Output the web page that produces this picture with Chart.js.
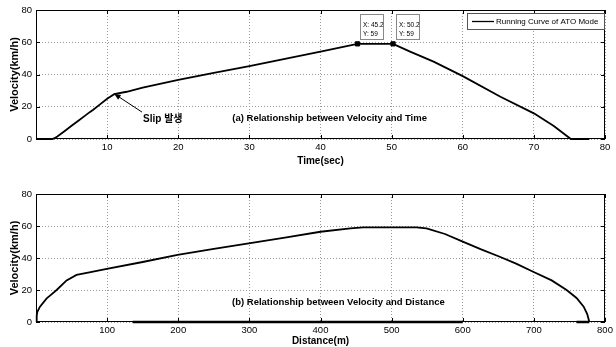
<!DOCTYPE html>
<html>
<head>
<meta charset="utf-8">
<script src="https://cdn.jsdelivr.net/npm/chart.js@4.4.0/dist/chart.umd.min.js"></script>
<style>
  body { margin: 0; background: #fff; }
  #wrap { position: relative; width: 616px; height: 347px; }
  canvas { position: absolute; left: 0; }
</style>
</head>
<body>
<div id="wrap">
  <canvas id="timeChart" width="616" height="173" style="top:0"></canvas>
  <canvas id="distChart" width="616" height="172" style="top:175px"></canvas>
</div>
<script>
// (a) 속도-시간
var timeSec = [0, 2.3, 2.6, 3, 4, 5, 6, 7, 7.5, 8, 9, 10, 11, 12.75, 15, 20, 25, 30, 35, 40, 45.2, 50.2, 52.6, 55.9, 60, 65.3, 70, 72.8, 75.2, 77.8];
var timeVel = [0, 0, 0.5, 1.5, 4.8, 8.2, 11.5, 14.8, 16.5, 18, 21.5, 25, 27.8, 29.3, 31.8, 36.6, 41, 45.2, 49.7, 54.2, 59, 59, 54.2, 48, 39, 26.2, 15.9, 8.1, 0, 0];

// (b) 속도-거리
var distM = [0, 1, 1.9, 5.6, 15, 19.7, 29, 43, 57, 75, 99.5, 150, 199, 250, 299, 350, 400, 442, 460, 535, 549, 575, 600, 625, 652, 675, 699, 725, 746, 760, 770, 775, 778];
var distVel = [0, 4, 6.4, 9.6, 14.8, 16.5, 20, 26, 29.4, 31, 33.2, 37.5, 41.9, 45.7, 49.2, 52.8, 56.4, 58.5, 59.2, 59.2, 58.5, 55, 50.2, 45.5, 40.8, 36.5, 31.4, 26, 20, 15, 9.6, 5, 0];

// 바닥의 굵은 선 (null = 끊김)
var groundDist = [136, 600, 680, 760, 778];
var groundVel = [0, 0, null, 0, 0];

// 데이터팁
var tipTime = [45.2, 50.2];
var tipVel = [59, 59];

// Slip 지점
var slipTime = 11;
var slipVel = 28;

var lineLabel = "Running Curve of ATO Mode";

Chart.defaults.font.family = "'Liberation Sans', Arial, 'Noto Sans CJK KR', sans-serif";
Chart.defaults.color = "#000";

function toPoints(xs, ys) {
  return xs.map(function (v, i) { return { x: v, y: ys[i] }; });
}

// MATLAB 스타일: 박스, 안쪽 눈금, 범례, 주석
var matlabLook = {
  id: "matlabLook",
  afterDatasetsDraw: function (chart, args, opts) {
    var ctx = chart.ctx;
    var a = chart.chartArea;
    var xs = chart.scales.x;
    var ys = chart.scales.y;
    ctx.save();
    ctx.setLineDash([]);
    ctx.strokeStyle = "#000";
    ctx.lineWidth = 1;

    // 안쪽 눈금
    ctx.beginPath();
    xs.ticks.forEach(function (t) {
      var px = Math.round(xs.getPixelForValue(t.value)) + 0.5;
      ctx.moveTo(px, a.bottom); ctx.lineTo(px, a.bottom - 4);
      ctx.moveTo(px, a.top); ctx.lineTo(px, a.top + 4);
    });
    ys.ticks.forEach(function (t) {
      var py = Math.round(ys.getPixelForValue(t.value)) + 0.5;
      ctx.moveTo(a.left, py); ctx.lineTo(a.left + 4, py);
      ctx.moveTo(a.right, py); ctx.lineTo(a.right - 4, py);
    });
    ctx.stroke();

    // 테두리
    ctx.strokeRect(a.left + 0.5, a.top + 0.5, a.right - a.left - 1, a.bottom - a.top - 1);

    // 범례
    if (opts.legend) {
      var lw = 137, lh = 16;
      var lx = a.right - lw - 1, ly = a.top + 3;
      ctx.fillStyle = "#fff";
      ctx.fillRect(lx, ly, lw, lh);
      ctx.strokeStyle = "#555";
      ctx.strokeRect(lx + 0.5, ly + 0.5, lw, lh);
      ctx.strokeStyle = "#000";
      ctx.lineWidth = 1.3;
      ctx.beginPath();
      ctx.moveTo(lx + 5, ly + lh / 2 + 0.5);
      ctx.lineTo(lx + 27, ly + lh / 2 + 0.5);
      ctx.stroke();
      ctx.fillStyle = "#000";
      ctx.font = "8px 'Liberation Sans', Arial, sans-serif";
      ctx.textAlign = "left";
      ctx.textBaseline = "middle";
      ctx.fillText(chart.data.datasets[0].label, lx + 29, ly + lh / 2 + 1);
    }

    // 데이터팁 상자
    (opts.tips || []).forEach(function (tp) {
      var mx = xs.getPixelForValue(tp.x);
      var my = ys.getPixelForValue(tp.y);
      var bx = Math.round(mx) + 3, by = Math.round(my) - 30;
      ctx.fillStyle = "#fff";
      ctx.fillRect(bx, by, 23, 25);
      ctx.strokeStyle = "#888";
      ctx.lineWidth = 1;
      ctx.strokeRect(bx + 0.5, by + 0.5, 23, 25);
      ctx.fillStyle = "#000";
      ctx.font = "6.5px 'Liberation Sans', Arial, sans-serif";
      ctx.textAlign = "left";
      ctx.textBaseline = "middle";
      ctx.fillText("X: " + tp.x, bx + 3, by + 11);
      ctx.fillText("Y: " + tp.y, bx + 3, by + 20);
    });

    // 글자 주석
    (opts.notes || []).forEach(function (n) {
      ctx.fillStyle = "#000";
      ctx.font = n.font;
      ctx.textAlign = "left";
      ctx.textBaseline = "middle";
      ctx.fillText(n.text, xs.getPixelForValue(n.x), ys.getPixelForValue(n.y));
    });

    // 화살표
    if (opts.arrow) {
      var ar = opts.arrow;
      var x0 = xs.getPixelForValue(ar.fromX), y0 = ys.getPixelForValue(ar.fromY);
      var x1 = xs.getPixelForValue(ar.toX), y1 = ys.getPixelForValue(ar.toY);
      var ang = Math.atan2(y1 - y0, x1 - x0);
      ctx.strokeStyle = "#000";
      ctx.lineWidth = 1;
      ctx.beginPath();
      ctx.moveTo(x0, y0);
      ctx.lineTo(x1, y1);
      ctx.stroke();
      ctx.fillStyle = "#000";
      ctx.beginPath();
      ctx.moveTo(x1, y1);
      ctx.lineTo(x1 - 7 * Math.cos(ang - 0.4), y1 - 7 * Math.sin(ang - 0.4));
      ctx.lineTo(x1 - 7 * Math.cos(ang + 0.4), y1 - 7 * Math.sin(ang + 0.4));
      ctx.closePath();
      ctx.fill();
    }
    ctx.restore();
  },
};

function makeScales(xMax, xStep, xTitle, xTitlePad) {
  return {
    x: {
      type: "linear",
      min: 0,
      max: xMax,
      afterFit: function (s) { s.height = xTitlePad.h; },
      ticks: {
        stepSize: xStep,
        padding: 3,
        font: { size: 9.5 },
        callback: function (v) { return v === 0 ? "" : v; },
      },
      grid: { color: "#9a9a9a", lineWidth: 1, drawTicks: false },
      border: { display: false, dash: [1, 2] },
      title: {
        display: true,
        text: xTitle,
        font: { size: 10, weight: "bold" },
        padding: { top: 0, bottom: xTitlePad.p },
      },
    },
    y: {
      min: 0,
      max: 80,
      afterFit: function (s) { s.width = 36; },
      ticks: { stepSize: 20, padding: 4, font: { size: 9.5 } },
      grid: { color: "#9a9a9a", lineWidth: 1, drawTicks: false },
      border: { display: false, dash: [1, 2] },
      title: {
        display: true,
        text: "Velocity(km/h)",
        font: { size: 11, weight: "bold" },
        padding: { top: 8, bottom: 0 },
      },
    },
  };
}

var timeChartConfig = {
  type: "line",
  data: {
    datasets: [
      {
        label: lineLabel,
        data: toPoints(timeSec, timeVel),
        borderColor: "#000",
        borderWidth: 1.8,
        pointRadius: 0,
        tension: 0,
        clip: 3,
      },
      {
        label: "datatip",
        data: toPoints(tipTime, tipVel),
        showLine: false,
        pointStyle: "rect",
        pointRadius: 3,
        backgroundColor: "#000",
        borderColor: "#000",
      },
    ],
  },
  options: {
    responsive: false,
    animation: false,
    layout: { padding: { top: 10, right: 11, left: 0, bottom: 0 } },
    scales: makeScales(80, 10, "Time(sec)", { h: 34, p: 6 }),
    plugins: {
      legend: { display: false },
      tooltip: { enabled: false },
      matlabLook: {
        legend: true,
        tips: tipTime.map(function (t, i) { return { x: t, y: tipVel[i] }; }),
        notes: [
          { text: "Slip 발생", x: 15.05, y: 12.4, font: "bold 10px 'Liberation Sans', Arial, 'Noto Sans CJK KR', sans-serif" },
          { text: "(a) Relationship between Velocity and Time", x: 27.6, y: 13, font: "bold 9.5px 'Liberation Sans', Arial, sans-serif" },
        ],
        arrow: { fromX: 14.9, fromY: 16.7, toX: slipTime, toY: slipVel },
      },
    },
  },
  plugins: [matlabLook],
};

var distChartConfig = {
  type: "line",
  data: {
    datasets: [
      {
        label: lineLabel,
        data: toPoints(distM, distVel),
        borderColor: "#000",
        borderWidth: 1.8,
        pointRadius: 0,
        tension: 0,
        clip: 3,
      },
      {
        label: "ground",
        data: toPoints(groundDist, groundVel),
        borderColor: "#000",
        borderWidth: 2.5,
        pointRadius: 0,
        spanGaps: false,
        clip: 3,
      },
    ],
  },
  options: {
    responsive: false,
    animation: false,
    layout: { padding: { top: 19, right: 11, left: 0, bottom: 0 } },
    scales: makeScales(800, 100, "Distance(m)", { h: 25, p: 0 }),
    plugins: {
      legend: { display: false },
      tooltip: { enabled: false },
      matlabLook: {
        notes: [
          { text: "(b) Relationship between Velocity and Distance", x: 275.6, y: 12.5, font: "bold 9.5px 'Liberation Sans', Arial, sans-serif" },
        ],
      },
    },
  },
  plugins: [matlabLook],
};

var timeChart = new Chart(document.getElementById("timeChart"), timeChartConfig);
var distChart = new Chart(document.getElementById("distChart"), distChartConfig);
</script>
</body>
</html>
